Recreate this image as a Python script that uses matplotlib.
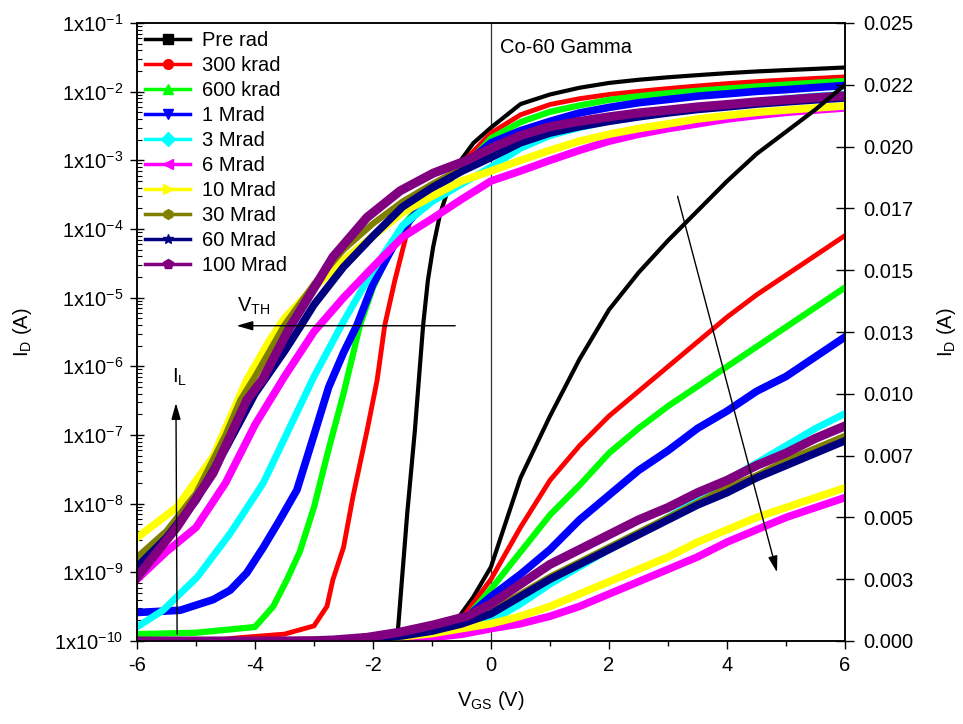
import matplotlib
matplotlib.use('Agg')
from matplotlib import pyplot as plt
from matplotlib.lines import Line2D
from matplotlib.ticker import LogLocator, NullFormatter, FixedLocator, MultipleLocator

plt.rcParams['font.family'] = 'Liberation Sans'
plt.rcParams['font.size'] = 14.5
plt.rcParams['mathtext.fontset'] = 'custom'
plt.rcParams['mathtext.rm'] = 'Liberation Sans'
plt.rcParams['mathtext.default'] = 'regular'
plt.rcParams['axes.unicode_minus'] = False

# gate voltage points above 0 V (shared by all curves)
v_pos = [0.5, 1.0, 1.5, 2.0, 2.5, 3.0, 3.5, 4.0, 4.5, 5.0, 5.5, 6.0]

# Pre rad
pre_v = [-6, -2, -1.7, -1.58, -1.42, -1.29, -1.15, -1.07, -0.98, -0.86, -0.6, -0.3, 0] + v_pos
pre_i = [2.5e-11, 4e-11, 6.3e-11, 1.35e-10, 7.2e-9, 1.17e-7, 4.0e-6, 1.78e-5, 5.5e-5, 1.7e-4, 7.9e-4, 1.78e-3, 3.0e-3,
         0.0066, 0.0091, 0.0114, 0.0134, 0.0149, 0.0162, 0.0174, 0.0186, 0.0197, 0.0206, 0.0215, 0.0225]

# 300 krad
k300_v = [-6, -4.25, -3.5, -3.0, -2.78, -2.68, -2.5, -2.34, -2.1, -1.93, -1.8, -1.63, -1.37, -1.0, -0.5, 0] + v_pos
k300_i = [7.9e-11, 1.12e-10, 1.26e-10, 1.66e-10, 3.2e-10, 7.8e-10, 2.3e-9, 1.26e-8, 1.17e-7, 6.3e-7, 4.0e-6, 1.78e-5,
          1.35e-4, 3.5e-4, 8.9e-4, 2.5e-3,
          0.0046, 0.0065, 0.0079, 0.0091, 0.0101, 0.0111, 0.0121, 0.0131, 0.0140, 0.0148, 0.0156, 0.0164]

# 600 krad
k600_v = [-6, -5, -4, -3.69, -3.46, -3.24, -3.0, -2.75, -2.5, -2.22, -2.0, -1.75, -1.5, -1.0, -0.5, 0] + v_pos
k600_i = [1.26e-10, 1.32e-10, 1.6e-10, 3.2e-10, 7.8e-10, 2.0e-9, 8.9e-9, 6.3e-8, 4.0e-7, 4.0e-6, 1.41e-5, 4.0e-5,
          1.12e-4, 3.3e-4, 7.1e-4, 2.1e-3,
          0.0036, 0.0051, 0.0063, 0.0076, 0.0086, 0.0095, 0.0103, 0.0111, 0.0119, 0.0127, 0.0135, 0.0143]

# 1 Mrad
m1_v = [-6, -5.27, -4.71, -4.42, -4.14, -3.86, -3.58, -3.29, -3.0, -2.75, -2.5, -2.27, -2.0, -1.5, -1.0, -0.5, 0] + v_pos
m1_i = [2.6e-10, 2.8e-10, 4.0e-10, 5.5e-10, 9.8e-10, 2.3e-9, 5.8e-9, 1.58e-8, 1.0e-7, 5.0e-7, 1.58e-6, 4.0e-6,
        1.58e-5, 1.0e-4, 3.2e-4, 7.9e-4, 1.8e-3,
        0.0027, 0.0037, 0.0049, 0.0059, 0.0069, 0.0077, 0.0086, 0.0093, 0.0101, 0.0107, 0.0115, 0.0123]

# 3 Mrad
m3_v = [-6, -5.56, -4.98, -4.42, -3.86, -3.5, -3.0, -2.5, -2.0, -1.5, -1.0, -0.5, 0] + v_pos
m3_i = [1.6e-10, 2.8e-10, 8.5e-10, 3.7e-9, 2.0e-8, 8.9e-8, 7.1e-7, 4.5e-6, 2.5e-5, 1.12e-4, 2.5e-4, 4.5e-4, 8e-4,
        0.0015, 0.0023, 0.0030, 0.0037, 0.0043, 0.0050, 0.0057, 0.0065, 0.0072, 0.0079, 0.0086, 0.0092]

# 6 Mrad
m6_v = [-6, -5.5, -5, -4.5, -4, -3.5, -3, -2.5, -2, -1.5, -1, -0.5, 0] + v_pos
m6_i = [7.9e-10, 2.0e-9, 4.5e-9, 2.0e-8, 1.41e-7, 7.1e-7, 3.2e-6, 1.0e-5, 2.8e-5, 7.6e-5, 1.41e-4, 2.7e-4, 5e-4,
        0.0007, 0.0010, 0.0014, 0.0019, 0.0024, 0.0029, 0.0034, 0.0040, 0.0045, 0.0050, 0.0054, 0.0058]

# 10 Mrad
m10_v = [-6, -5.32, -4.71, -4.14, -3.75, -3.5, -3.0, -2.5, -2.0, -1.5, -1.0, -0.5, 0] + v_pos
m10_i = [3.2e-9, 8.9e-9, 4.8e-8, 6.3e-7, 2.4e-6, 5.0e-6, 1.41e-5, 3.5e-5, 7.9e-5, 1.74e-4, 3.0e-4, 5.0e-4, 7e-4,
         0.0010, 0.0014, 0.0019, 0.0024, 0.0029, 0.0034, 0.0040, 0.0045, 0.0050, 0.0054, 0.0058, 0.0062]

# 30 Mrad
m30_v = [-6, -5.5, -5, -4.5, -4.25, -4, -3.5, -3, -2.5, -2, -1.5, -1, -0.5, 0] + v_pos
m30_i = [1.66e-9, 4.0e-9, 1.41e-8, 1.0e-7, 3.2e-7, 7.1e-7, 4.0e-6, 1.58e-5, 5.0e-5, 1.2e-4, 2.5e-4, 4.5e-4, 7.6e-4, 1.2e-3,
         0.0019, 0.0026, 0.0032, 0.0038, 0.0044, 0.0050, 0.0056, 0.0062, 0.0067, 0.0073, 0.0078, 0.0083]

# 60 Mrad
m60_v = [-6, -5.5, -5, -4.5, -4, -3.5, -3.24, -3, -2.5, -2, -1.5, -1, -0.5, 0] + v_pos
m60_i = [1.2e-9, 3.2e-9, 1.12e-8, 6.3e-8, 4.0e-7, 1.66e-6, 3.7e-6, 7.9e-6, 2.8e-5, 7.9e-5, 2.1e-4, 4.0e-4, 6.9e-4, 1.1e-3,
         0.0018, 0.0025, 0.0031, 0.0037, 0.0043, 0.0049, 0.0055, 0.0060, 0.0066, 0.0071, 0.0076, 0.0081]

# 100 Mrad
m100_v = [-6, -5.32, -4.71, -4.14, -3.88, -3.41, -2.95, -2.68, -2.1, -1.54, -0.98, -0.41, 0] + v_pos
m100_i = [8.5e-10, 4.6e-9, 2.8e-8, 3.2e-7, 6.3e-7, 3.7e-6, 1.62e-5, 3.9e-5, 1.48e-4, 3.6e-4, 6.5e-4, 1.0e-3, 1.5e-3,
          0.0023, 0.0031, 0.0037, 0.0043, 0.0049, 0.0054, 0.0060, 0.0065, 0.0071, 0.0076, 0.0082, 0.0087]

labels = ['Pre rad', '300 krad', '600 krad', '1 Mrad', '3 Mrad', '6 Mrad', '10 Mrad', '30 Mrad', '60 Mrad', '100 Mrad']
colors = ['#000000', '#ff0000', '#00ff00', '#0000ff', '#00ffff', '#ff00ff', '#ffff00', '#808000', '#000080', '#800080']
markers = ['s', 'o', '^', 'v', 'D', '<', '>', 'h', '*', 'p']
widths = [3.0, 3.5, 4.5, 5.5, 5.0, 5.5, 5.5, 4.5, 5.5, 6.5]
curves = [(pre_v, pre_i), (k300_v, k300_i), (k600_v, k600_i), (m1_v, m1_i), (m3_v, m3_i),
          (m6_v, m6_i), (m10_v, m10_i), (m30_v, m30_i), (m60_v, m60_i), (m100_v, m100_i)]

log_ticks = [1e-10, 1e-9, 1e-8, 1e-7, 1e-6, 1e-5, 1e-4, 1e-3, 1e-2, 1e-1]
log_tick_labels = [r'$1x10^{-%d}$' % k for k in range(10, 0, -1)]
lin_ticks = [0, 0.0025, 0.005, 0.0075, 0.01, 0.0125, 0.015, 0.0175, 0.02, 0.0225, 0.025]
lin_tick_labels = ['0.000', '0.003', '0.005', '0.007', '0.010', '0.013', '0.015', '0.017', '0.020', '0.022', '0.025']

fig = plt.figure(figsize=(9.63, 7.24), dpi=100)
ax = fig.add_axes([137 / 963, 83 / 724, 708 / 963, 618 / 724])
ax2 = ax.twinx()

ax.axvline(0, color='#333333', lw=0.9, zorder=0)

# same data on both scales: log on the left, linear on the right
for (v, i), c, w in zip(curves, colors, widths):
    ax.semilogy(v, i, color=c, lw=w, solid_joinstyle='round')
    ax2.plot(v, i, color=c, lw=w, solid_joinstyle='round')

ax.set_xlim(-6, 6)
ax.set_ylim(1e-10, 1e-1)
ax2.set_ylim(0, 0.025)

ax.xaxis.set_major_locator(MultipleLocator(2))
ax.xaxis.set_minor_locator(MultipleLocator(1))
ax.yaxis.set_major_locator(FixedLocator(log_ticks))
ax.set_yticklabels(log_tick_labels)
ax.yaxis.set_minor_locator(LogLocator(base=10, subs=range(2, 10), numticks=20))
ax.yaxis.set_minor_formatter(NullFormatter())
ax2.set_yticks(lin_ticks)
ax2.set_yticklabels(lin_tick_labels)

ax.tick_params(axis='x', which='major', direction='out', length=6, width=1, pad=5)
ax.tick_params(axis='x', which='minor', direction='out', length=3.5, width=1)
ax.tick_params(axis='y', which='major', direction='inout', length=10, width=1, pad=5)
ax.tick_params(axis='y', which='minor', direction='in', length=3.5, width=0.8)
ax2.tick_params(axis='y', which='major', direction='inout', length=13, width=1, pad=7)

for a in (ax, ax2):
    for s in a.spines.values():
        s.set_linewidth(1.1)

ax.set_xlabel(r'V$_{GS}$ (V)')
ax.xaxis.set_label_coords(0.5, -0.078)
ax.set_ylabel(r'I$_D$ (A)')
ax.yaxis.set_label_coords(-0.145, 0.5)
ax2.set_ylabel(r'I$_D$ (A)')
ax2.yaxis.set_label_coords(1.127, 0.5)

ax.text(0.513, 0.960, 'Co-60 Gamma', transform=ax.transAxes, va='center', ha='left')

# V_TH arrow
ax.annotate('', xy=(-4.36, 3.9e-6), xytext=(-0.56, 3.9e-6),
            arrowprops=dict(arrowstyle='-|>,head_length=0.7,head_width=0.2', color='k', lw=1, mutation_scale=14))
ax.text(-4.31, 6.2e-6, r'V$_{TH}$', ha='left', va='baseline')

# I_L arrow
ax.annotate('', xy=(-5.34, 3.2e-7), xytext=(-5.32, 1.15e-10),
            arrowprops=dict(arrowstyle='-|>,head_length=0.7,head_width=0.2', color='k', lw=1, mutation_scale=14))
ax.text(-5.41, 5.7e-7, r'I$_L$', ha='left', va='baseline')

# dose direction arrow (linear scale)
ax2.annotate('', xy=(4.86, 0.00267), xytext=(3.15, 0.0181),
             arrowprops=dict(arrowstyle='-|>,head_length=0.7,head_width=0.2', color='k', lw=1, mutation_scale=14))

handles = [Line2D([0], [0], color=c, lw=2.5, marker=m, ms=7, mec=c) for c, m in zip(colors, markers)]
ax2.legend(handles, labels, loc='upper left', bbox_to_anchor=(0.0, 1.0), frameon=False,
           handlelength=2.25, handletextpad=0.6, labelspacing=0.3, borderaxespad=0.2, borderpad=0.2)

fig.savefig('out.png', dpi=100)
